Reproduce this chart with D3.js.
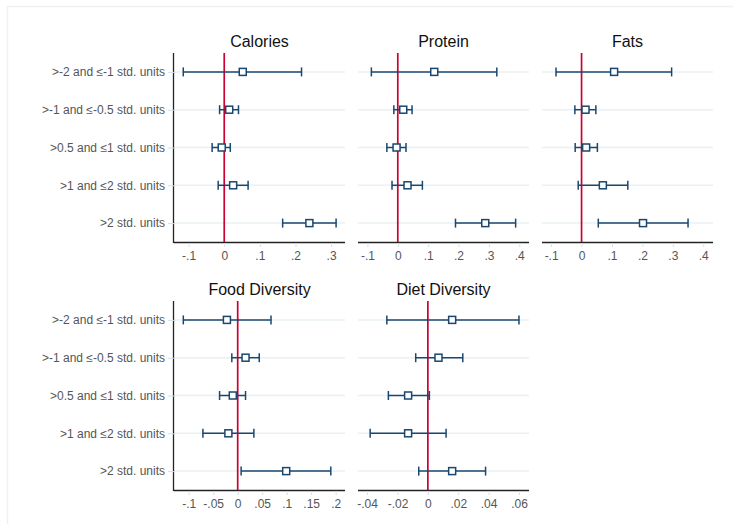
<!DOCTYPE html>
<html>
<head>
<meta charset="utf-8">
<script src="https://cdn.jsdelivr.net/npm/d3@7"></script>
<style>
  body { margin: 0; background: #fff; }
  svg { font-family: "Liberation Sans", Arial, sans-serif; }
</style>
</head>
<body>
<div id="chart"></div>
<script>
// categories on the y axis (top to bottom)
var categories = ['>-2 and \u2264-1 std. units', '>-1 and \u2264-0.5 std. units',
  '>0.5 and \u22641 std. units', '>1 and \u22642 std. units', '>2 std. units'];

// point estimates and 95% CI bounds, one set per outcome
var calPoint = [0.052, 0.014, -0.007, 0.025, 0.239],
  calLow = [-0.115, -0.013, -0.034, -0.017, 0.164],
  calHigh = [0.217, 0.040, 0.017, 0.067, 0.314];
var proPoint = [0.120, 0.018, -0.004, 0.032, 0.288],
  proLow = [-0.087, -0.013, -0.036, -0.019, 0.190],
  proHigh = [0.326, 0.047, 0.027, 0.081, 0.388];
var fatPoint = [0.107, 0.013, 0.015, 0.070, 0.202],
  fatLow = [-0.084, -0.022, -0.021, -0.011, 0.055],
  fatHigh = [0.296, 0.047, 0.052, 0.152, 0.350];
var foodPoint = [-0.022, 0.016, -0.010, -0.019, 0.099],
  foodLow = [-0.111, -0.012, -0.037, -0.071, 0.007],
  foodHigh = [0.068, 0.044, 0.016, 0.033, 0.190];
var dietPoint = [0.016, 0.007, -0.013, -0.013, 0.016],
  dietLow = [-0.027, -0.008, -0.026, -0.038, -0.006],
  dietHigh = [0.060, 0.023, 0.001, 0.012, 0.038];

// tick values for each x axis
var calTicks = [-0.1, 0, 0.1, 0.2, 0.3],
  proTicks = [-0.1, 0, 0.1, 0.2, 0.3, 0.4],
  fatTicks = [-0.1, 0, 0.1, 0.2, 0.3, 0.4],
  foodTicks = [-0.1, -0.05, 0, 0.05, 0.1, 0.15, 0.2],
  dietTicks = [-0.04, -0.02, 0, 0.02, 0.04, 0.06];

var titles = ['Calories', 'Protein', 'Fats', 'Food Diversity', 'Diet Diversity'];

var _width = 733, _height = 524;
var navy = '#1a476f', red = '#cc0033';

// panel layout: left, top, x domain
var panels = [
  {title: titles[0], x: 174, y: 53, domain: [-0.141, 0.339], ticks: calTicks, pt: calPoint, lo: calLow, hi: calHigh, yaxis: true},
  {title: titles[1], x: 358, y: 53, domain: [-0.131, 0.432], ticks: proTicks, pt: proPoint, lo: proLow, hi: proHigh},
  {title: titles[2], x: 542, y: 53, domain: [-0.130, 0.432], ticks: fatTicks, pt: fatPoint, lo: fatLow, hi: fatHigh},
  {title: titles[3], x: 174, y: 301, domain: [-0.130, 0.219], ticks: foodTicks, pt: foodPoint, lo: foodLow, hi: foodHigh, yaxis: true},
  {title: titles[4], x: 358, y: 301, domain: [-0.046, 0.0666], ticks: dietTicks, pt: dietPoint, lo: dietLow, hi: dietHigh}
];
var pw = 171, ph = 189;

// stata style tick labels: drop the leading zero, plain hyphen
function fmt(v) {
  if (Math.abs(v) < 1e-9) return '0';
  return String(+v.toFixed(3)).replace(/^(-?)0\./, '$1.');
}

var svg = d3.select('#chart').append('svg')
  .attr('width', _width)
  .attr('height', _height);

// faint outer frame
svg.append('path')
  .attr('d', 'M7.5,' + _height + 'V6.5H' + _width)
  .attr('fill', 'none')
  .attr('stroke', '#edf2f3')
  .attr('stroke-width', 1.5);

panels.forEach(function(p) {
  var x = d3.scaleLinear().domain(p.domain).range([0, pw]);
  var y = d3.scalePoint().domain(categories).range([0, ph]).padding(0.5);
  var g = svg.append('g').attr('transform', 'translate(' + p.x + ',' + p.y + ')');

  // gridlines
  g.selectAll('.grid').data(categories).enter().append('line')
    .attr('x1', 0).attr('x2', pw)
    .attr('y1', function(d) { return y(d); })
    .attr('y2', function(d) { return y(d); })
    .attr('stroke', '#eaf0f3')
    .attr('stroke-width', 1.5);

  // title
  g.append('text')
    .attr('x', pw / 2).attr('y', -6)
    .attr('text-anchor', 'middle')
    .attr('font-size', 16)
    .attr('fill', '#111')
    .text(p.title);

  // x axis
  var xa = g.append('g').attr('transform', 'translate(0,' + ph + ')')
    .call(d3.axisBottom(x).tickValues(p.ticks).tickFormat(fmt).tickSize(5).tickPadding(4));
  xa.select('.domain').attr('stroke', '#222').attr('stroke-width', 1.3).attr('d', 'M0,0.5H' + pw);
  xa.selectAll('.tick line').attr('stroke', '#d5e0e6').attr('y1', 1);
  xa.selectAll('.tick text').attr('font-size', 12).attr('fill', '#555')
    .attr('font-family', '"Liberation Sans", Arial, sans-serif');

  // y axis only in the first column
  if (p.yaxis) {
    var ya = g.append('g').call(d3.axisLeft(y).tickSize(6).tickPadding(3));
    ya.select('.domain').attr('stroke', '#222').attr('stroke-width', 1.3).attr('d', 'M-0.5,0V' + (ph + 1));
    ya.selectAll('.tick line').attr('stroke', '#d5e0e6');
    ya.selectAll('.tick text').attr('font-size', 12).attr('fill', '#555')
      .attr('font-family', '"Liberation Sans", Arial, sans-serif');
  }

  // zero reference line
  g.append('line')
    .attr('x1', x(0)).attr('x2', x(0))
    .attr('y1', 0).attr('y2', ph)
    .attr('stroke', red)
    .attr('stroke-width', 1.7);

  var rows = categories.map(function(c, i) {
    return {cat: c, pt: p.pt[i], lo: p.lo[i], hi: p.hi[i]};
  });

  // CI bars with caps
  var ci = g.selectAll('.ci').data(rows).enter().append('g');
  ci.append('line')
    .attr('x1', function(d) { return x(d.lo); })
    .attr('x2', function(d) { return x(d.hi); })
    .attr('y1', function(d) { return y(d.cat); })
    .attr('y2', function(d) { return y(d.cat); })
    .attr('stroke', navy).attr('stroke-width', 1.5);
  ['lo', 'hi'].forEach(function(k) {
    ci.append('line')
      .attr('x1', function(d) { return x(d[k]); })
      .attr('x2', function(d) { return x(d[k]); })
      .attr('y1', function(d) { return y(d.cat) - 4.5; })
      .attr('y2', function(d) { return y(d.cat) + 4.5; })
      .attr('stroke', navy).attr('stroke-width', 1.5);
  });

  // hollow square markers
  g.selectAll('.pt').data(rows).enter().append('rect')
    .attr('x', function(d) { return x(d.pt) - 3.5; })
    .attr('y', function(d) { return y(d.cat) - 3.5; })
    .attr('width', 7).attr('height', 7)
    .attr('fill', '#fff')
    .attr('stroke', navy).attr('stroke-width', 1.5);
});
</script>
</body>
</html>
